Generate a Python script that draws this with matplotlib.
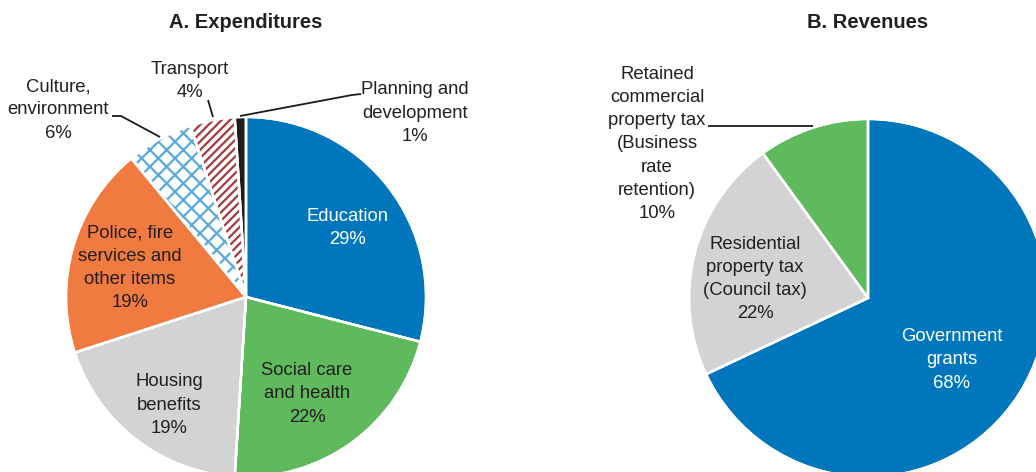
import matplotlib
matplotlib.use("Agg")
from matplotlib import pyplot as plt
from matplotlib.patches import Wedge

plt.rcParams['font.family'] = ['Liberation Sans', 'DejaVu Sans']
plt.rcParams['hatch.linewidth'] = 1.6

# data
exp_labels = ['Education', 'Social care\nand health', 'Housing\nbenefits',
              'Police, fire\nservices and\nother items', 'Culture,\nenvironment',
              'Transport', 'Planning and\ndevelopment']
exp_values = [29, 22, 19, 19, 6, 4, 1]
rev_labels = ['Government\ngrants', 'Residential\nproperty tax\n(Council tax)',
              'Retained\ncommercial\nproperty tax\n(Business\nrate\nretention)']
rev_values = [68, 22, 10]

# styles
blue, green, grey, orange = '#0077bd', '#5fba5d', '#d3d3d5', '#f07a40'
exp_colors = [blue, green, grey, orange, 'white', 'white', '#1c1c1c']
exp_hatch = [None, None, None, None, 'xx', '////', None]
exp_hatch_col = [None, None, None, None, '#5aa9dd', '#a03c3c', None]
rev_colors = [blue, grey, green]
txt = '#231f20'

W, H = 1036, 472
fig = plt.figure(figsize=(W / 100, H / 100), dpi=100)
ax = fig.add_axes([0, 0, 1, 1])


def py(y):
    # pixel row (from top) -> data y
    return H - y


# label positions in pixels (x, y from top), and text colours
exp_pos = [(348, 228), (307, 394), (169, 405), (130, 268), (58, 110), (190, 81), (415, 113)]
exp_tc = ['white', txt, txt, txt, txt, txt, txt]
rev_pos = [(952, 360), (755, 279), (657, 144)]
rev_tc = ['white', txt, txt]

w1, _ = ax.pie(exp_values, radius=180, center=(246, py(297)), startangle=90,
               counterclock=False, colors=exp_colors,
               wedgeprops=dict(edgecolor='white', linewidth=1.5))
for w, h, hc in zip(w1, exp_hatch, exp_hatch_col):
    if h:
        w.set_hatch(h)
        w.set_edgecolor(hc)
        w.set_linewidth(0)

w2, _ = ax.pie(rev_values, radius=179, center=(868, py(298)), startangle=90,
               counterclock=False, colors=rev_colors,
               wedgeprops=dict(edgecolor='white', linewidth=1.5))

# white separators on top of all wedges
for w in list(w1) + list(w2):
    ax.add_patch(Wedge(w.center, w.r, w.theta1, w.theta2, fill=False,
                       edgecolor='white', linewidth=1.8))

fs = 13.3
ls = 1.48
for lab, v, (x, y), c in zip(exp_labels, exp_values, exp_pos, exp_tc):
    ax.text(x, py(y), f'{lab}\n{v}%', ha='center', va='center', color=c,
            fontsize=fs, linespacing=ls)
for lab, v, (x, y), c in zip(rev_labels, rev_values, rev_pos, rev_tc):
    ax.text(x, py(y), f'{lab}\n{v}%', ha='center', va='center', color=c,
            fontsize=fs, linespacing=ls)

# leader lines
leaders = [
    [(112, 116), (121, 116), (160, 137)],
    [(208, 100), (213, 117)],
    [(361, 94), (352, 95), (240, 116)],
    [(708, 126), (813, 126)],
]
for pts in leaders:
    ax.plot([p[0] for p in pts], [py(p[1]) for p in pts], color='#1c1c1c', lw=1.3,
            solid_capstyle='butt')

ax.text(246, py(22), 'A. Expenditures', ha='center', va='center', fontsize=14.5,
        fontweight='bold', color=txt)
ax.text(868, py(22), 'B. Revenues', ha='center', va='center', fontsize=14.5,
        fontweight='bold', color=txt)

ax.set_xlim(0, W)
ax.set_ylim(0, H)
ax.set_aspect('equal')
ax.axis('off')
fig.savefig('out.png', dpi=100)
